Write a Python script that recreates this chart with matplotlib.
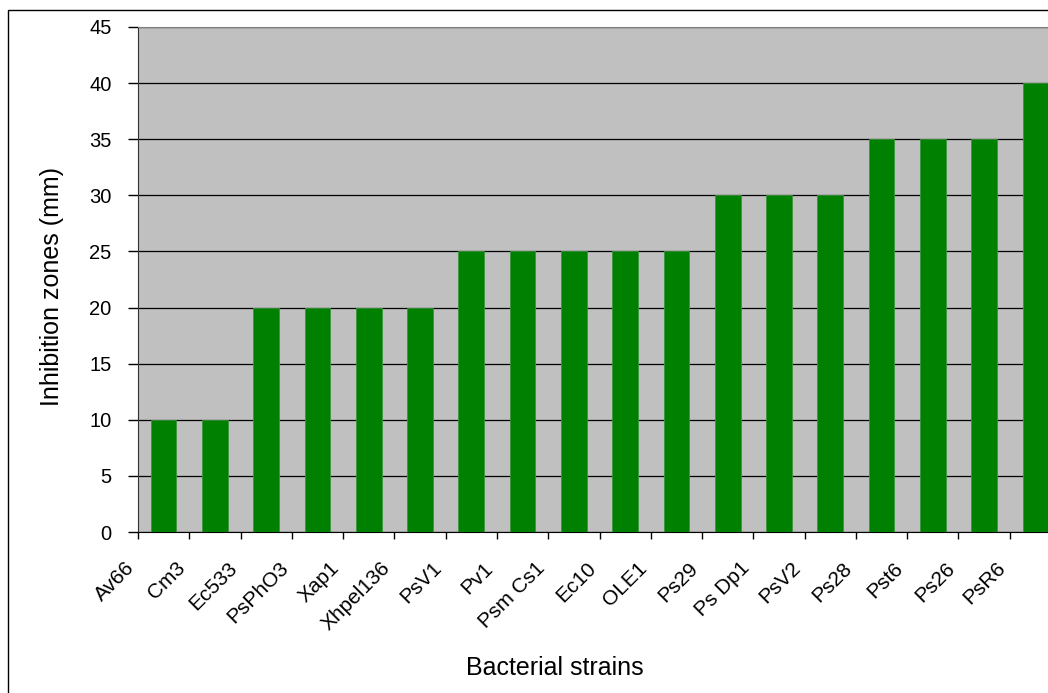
import matplotlib
matplotlib.use('Agg')
import matplotlib.pyplot as plt
from matplotlib.patches import Rectangle
import numpy as np

strains = ['Av66', 'Cm3', 'Ec533', 'PsPhO3', 'Xap1', 'Xhpel136', 'PsV1',
           'Pv1', 'Psm Cs1', 'Ec10', 'OLE1', 'Ps29', 'Ps Dp1', 'PsV2',
           'Ps28', 'Pst6', 'Ps26', 'PsR6']
zones_mm = [10, 10, 20, 20, 20, 20, 25, 25, 25, 25, 25, 30, 30, 30,
            35, 35, 35, 40]
y_ticks = list(range(0, 50, 5))

plt.rcParams['font.family'] = ['Liberation Sans', 'DejaVu Sans']

W, H = 1048, 693
fig = plt.figure(figsize=(W / 100, H / 100), dpi=100)
# chart frame, runs off the right and bottom edges
fig.patches.append(Rectangle((8 / W, -0.1), 1.2, 0.1 + (H - 10) / H,
                             transform=fig.transFigure, fill=False,
                             edgecolor='black', linewidth=1.0))

ax = fig.add_axes([138 / W, 1 - 532 / H, 923 / W, 505 / H])
ax.set_facecolor('#c0c0c0')

x = np.arange(len(strains))
ax.bar(x, zones_mm, width=0.5, color='#008000', edgecolor='#3c963c',
       linewidth=0.6, zorder=3)

ax.set_xlim(-0.5, len(strains) - 0.5)
ax.set_ylim(0, 45)
ax.set_yticks(y_ticks)
ax.set_yticklabels([str(v) for v in y_ticks], fontsize=14.5)
ax.yaxis.grid(True, color='black', linewidth=0.9, zorder=1)
ax.set_axisbelow(True)

# category labels sit on the left boundary of each category
ax.set_xticks(np.arange(len(strains) + 1) - 0.5)
ax.set_xticklabels(strains + [''], rotation=45, ha='right', va='top',
                   fontsize=15)
ax.tick_params(axis='x', direction='out', length=5, width=1, pad=14)
ax.tick_params(axis='y', direction='out', length=7, width=1, pad=12)

ax.spines['right'].set_visible(False)
ax.spines['top'].set_color('#808080')
ax.spines['left'].set_color('#303030')
ax.spines['bottom'].set_color('black')

ax.set_ylabel('Inhibition zones (mm)', fontsize=18)
ax.yaxis.set_label_coords(64 / W, 1 - 287 / H, transform=fig.transFigure)
fig.text(555 / W, 1 - 668 / H, 'Bacterial strains', fontsize=18,
         ha='center', va='center')

fig.savefig('out.png', dpi=100)
